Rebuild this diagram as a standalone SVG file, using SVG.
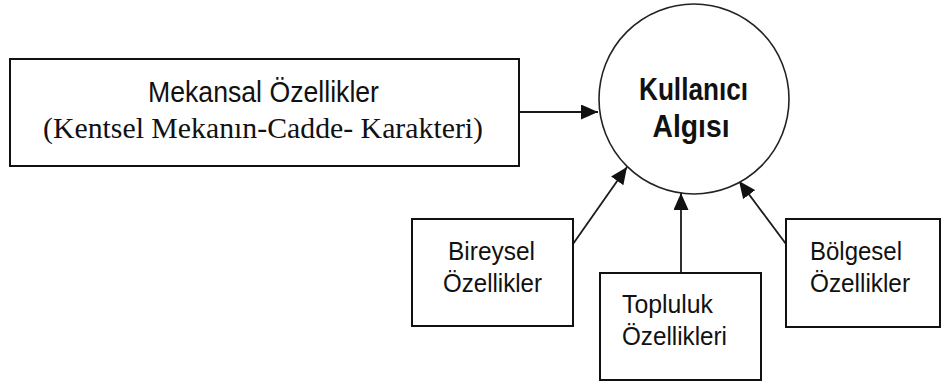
<svg xmlns="http://www.w3.org/2000/svg" width="942" height="385" viewBox="0 0 942 385">
  <style>
    .box { fill: #ffffff; stroke: #111111; stroke-width: 2; }
    .ring { fill: #ffffff; stroke: #222222; stroke-width: 1.6; }
    .edge { fill: none; stroke: #1a1a1a; stroke-width: 1.8; }
    .sans { font-family: "Liberation Sans", Arial, sans-serif; fill: #111111; }
    .serif { font-family: "Liberation Serif", "Times New Roman", serif; fill: #111111; }
    .bold { font-weight: bold; }
  </style>
  <defs>
    <marker id="head" markerUnits="userSpaceOnUse" markerWidth="18" markerHeight="15" refX="17" refY="7.5" orient="auto">
      <path d="M0,0 L17,7.5 L0,15 Z" fill="#111111"/>
    </marker>
  </defs>

  <rect width="942" height="385" fill="#ffffff"/>

  <g id="connectors">
    <line class="edge" x1="519" y1="112" x2="598" y2="112" marker-end="url(#head)"/>
    <line class="edge" x1="573" y1="244" x2="627" y2="167" marker-end="url(#head)"/>
    <line class="edge" x1="681" y1="273" x2="681" y2="193" marker-end="url(#head)"/>
    <line class="edge" x1="786" y1="244" x2="739" y2="181" marker-end="url(#head)"/>
  </g>

  <g id="node-mekansal">
    <rect class="box" x="10" y="59" width="509" height="107"/>
    <text class="sans" x="263.5" y="102" font-size="30" text-anchor="middle" textLength="231" lengthAdjust="spacingAndGlyphs">Mekansal Özellikler</text>
    <text class="serif" x="263" y="138" font-size="29" text-anchor="middle" textLength="440" lengthAdjust="spacingAndGlyphs">(Kentsel Mekanın-Cadde- Karakteri)</text>
  </g>

  <g id="node-kullanici">
    <circle class="ring" cx="694" cy="99" r="95"/>
    <text class="sans bold" x="693.5" y="100" font-size="32" text-anchor="middle" textLength="109" lengthAdjust="spacingAndGlyphs">Kullanıcı</text>
    <text class="sans bold" x="691" y="137" font-size="32" text-anchor="middle" textLength="77" lengthAdjust="spacingAndGlyphs">Algısı</text>
  </g>

  <g id="node-bireysel">
    <rect class="box" x="412" y="219" width="161" height="107"/>
    <text class="sans" x="491.5" y="260" font-size="26" text-anchor="middle" textLength="87" lengthAdjust="spacingAndGlyphs">Bireysel</text>
    <text class="sans" x="492.5" y="292" font-size="26" text-anchor="middle" textLength="99" lengthAdjust="spacingAndGlyphs">Özellikler</text>
  </g>

  <g id="node-topluluk">
    <rect class="box" x="600" y="273" width="161" height="107"/>
    <text class="sans" x="622" y="313" font-size="26" textLength="91" lengthAdjust="spacingAndGlyphs">Topluluk</text>
    <text class="sans" x="622" y="345" font-size="26" textLength="105" lengthAdjust="spacingAndGlyphs">Özellikleri</text>
  </g>

  <g id="node-bolgesel">
    <rect class="box" x="786" y="219" width="154" height="108"/>
    <text class="sans" x="810" y="260" font-size="26" textLength="92" lengthAdjust="spacingAndGlyphs">Bölgesel</text>
    <text class="sans" x="810" y="292" font-size="26" textLength="100" lengthAdjust="spacingAndGlyphs">Özellikler</text>
  </g>
</svg>
